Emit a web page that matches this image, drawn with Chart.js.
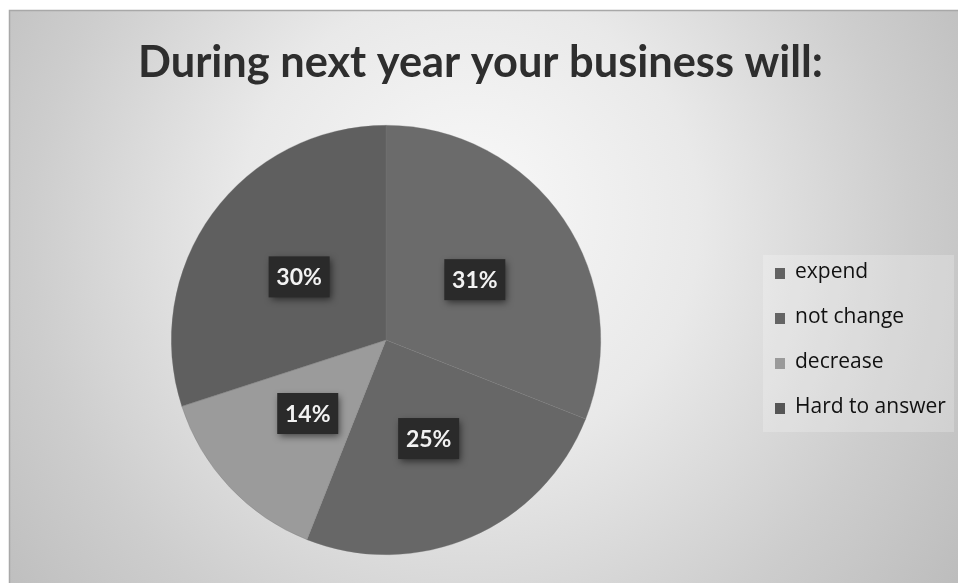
<!DOCTYPE html>
<html>
<head>
<meta charset="utf-8">
<script src="https://cdn.jsdelivr.net/npm/chart.js@4.4.1/dist/chart.umd.min.js"></script>
<style>
  html, body { margin: 0; padding: 0; background: #ffffff; }
  #wrap { width: 958px; height: 583px; position: relative; }
</style>
</head>
<body>
<div id="wrap"><canvas id="c" width="958" height="583"></canvas></div>
<script>
const titleText = 'During next year your business will:';
const categories = ['expend', 'not change', 'decrease', 'Hard to answer'];
const shares = [31, 25, 14, 30];
const sliceColors = ['#6b6b6b', '#676767', '#9b9b9b', '#5f5f5f'];
const legendSwatches = ['#626262', '#646464', '#9a9a9a', '#555555'];

const backgroundPlugin = {
  id: 'bgPanel',
  beforeDraw(chart) {
    const ctx = chart.ctx;
    const W = chart.width, H = chart.height;
    ctx.save();
    ctx.fillStyle = '#ffffff';
    ctx.fillRect(0, 0, W, H);
    const g = ctx.createRadialGradient(470, 200, 20, 470, 260, 620);
    g.addColorStop(0, '#f7f7f7');
    g.addColorStop(0.35, '#e9e9e9');
    g.addColorStop(0.7, '#cdcdcd');
    g.addColorStop(1, '#b9b9b9');
    ctx.fillStyle = g;
    ctx.fillRect(9, 10, W - 9, H - 10);
    ctx.strokeStyle = '#a8a8a8';
    ctx.lineWidth = 1.5;
    ctx.beginPath();
    ctx.moveTo(9.5, H);
    ctx.lineTo(9.5, 10.5);
    ctx.lineTo(W, 10.5);
    ctx.stroke();
    ctx.restore();
  }
};

const titlePlugin = {
  id: 'topTitle',
  afterDraw(chart) {
    const ctx = chart.ctx;
    ctx.save();
    ctx.font = 'bold 43px Lato, sans-serif';
    ctx.textAlign = 'left';
    ctx.textBaseline = 'alphabetic';
    const w = ctx.measureText(titleText).width;
    const target = 685;
    const sx = target / w;
    ctx.translate(138, 77);
    ctx.scale(sx, 1);
    ctx.fillStyle = '#2e2e2e';
    ctx.fillText(titleText, 0, 0);
    ctx.restore();
  }
};

const labelPlugin = {
  id: 'pctBoxes',
  afterDatasetsDraw(chart) {
    const ctx = chart.ctx;
    const meta = chart.getDatasetMeta(0);
    const vals = chart.data.datasets[0].data;
    ctx.save();
    ctx.font = 'bold 23px Lato, sans-serif';
    ctx.textAlign = 'center';
    ctx.textBaseline = 'middle';
    meta.data.forEach((arc, i) => {
      const p = arc.tooltipPosition();
      const txt = vals[i] + '%';
      const w = 61;
      const h = 41;
      ctx.shadowColor = 'rgba(0,0,0,0.55)';
      ctx.shadowBlur = 7;
      ctx.shadowOffsetX = 2;
      ctx.shadowOffsetY = 3;
      ctx.fillStyle = '#2a2a2a';
      ctx.fillRect(p.x - w / 2, p.y - h / 2, w, h);
      ctx.shadowColor = 'transparent';
      ctx.fillStyle = '#f2f2f2';
      ctx.fillText(txt, p.x, p.y + 1);
    });
    ctx.restore();
  }
};

const legendPlugin = {
  id: 'sideLegend',
  afterDraw(chart) {
    const ctx = chart.ctx;
    const labels = chart.data.labels;
    ctx.save();
    ctx.fillStyle = 'rgba(255,255,255,0.22)';
    ctx.fillRect(763, 255, 191, 177);
    ctx.font = '21px "Open Sans", sans-serif';
    ctx.textAlign = 'left';
    ctx.textBaseline = 'middle';
    labels.forEach((lab, i) => {
      const y = 273 + i * 45;
      ctx.fillStyle = legendSwatches[i];
      ctx.fillRect(775, y - 5, 10, 11);
      ctx.fillStyle = '#111111';
      ctx.fillText(lab, 795, y - 1);
    });
    ctx.restore();
  }
};

new Chart(document.getElementById('c'), {
  type: 'pie',
  data: {
    labels: categories,
    datasets: [{
      data: shares,
      backgroundColor: sliceColors,
      borderColor: 'rgba(120,120,120,0.6)',
      borderWidth: 0.5
    }]
  },
  options: {
    responsive: false,
    animation: false,
    layout: { padding: { left: 171, right: 357, top: 125, bottom: 28 } },
    plugins: {
      legend: { display: false },
      tooltip: { enabled: false },
      title: { display: false }
    }
  },
  plugins: [backgroundPlugin, labelPlugin, legendPlugin, titlePlugin]
});
</script>
</body>
</html>
